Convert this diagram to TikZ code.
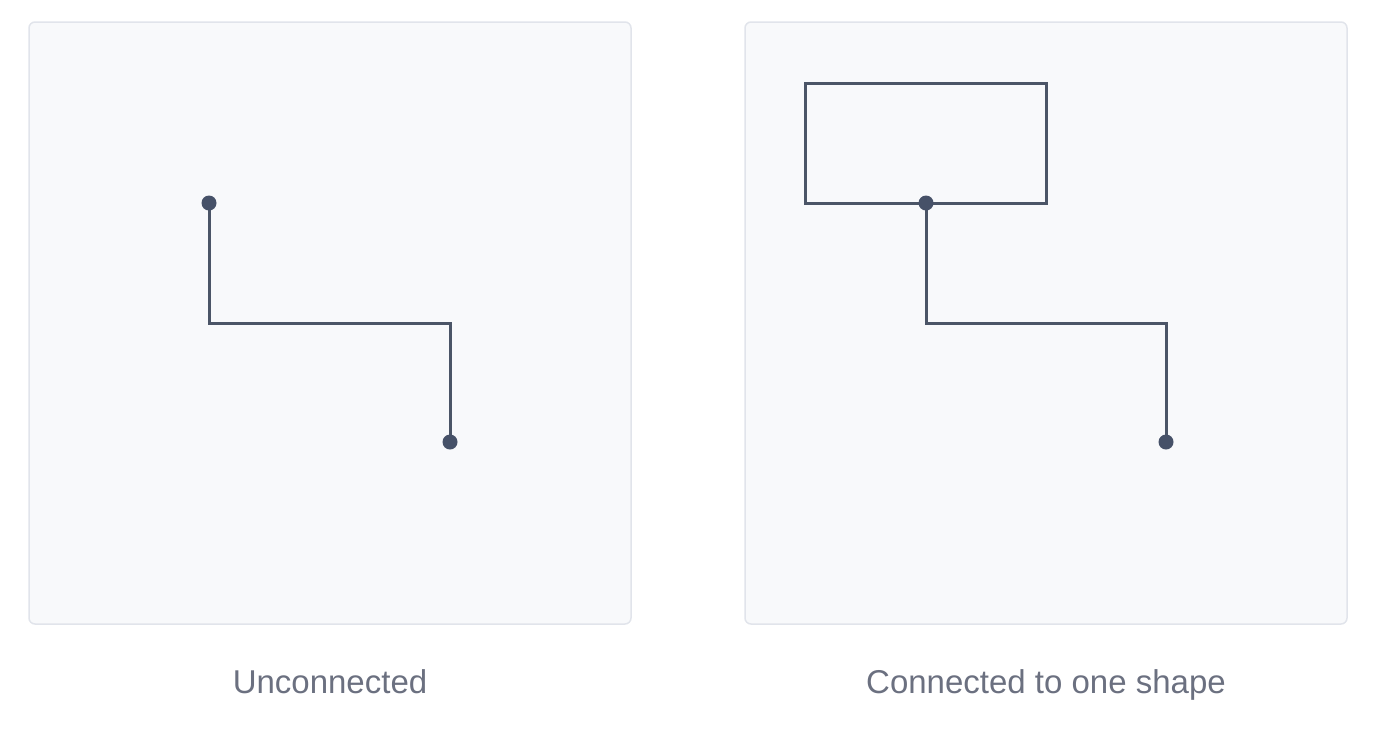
\documentclass[tikz,border=0pt]{standalone}
\usepackage{fontspec}
\setmainfont{Liberation Sans}
\definecolor{panelfill}{HTML}{F8F9FB}
\definecolor{panelborder}{HTML}{E1E4EB}
\definecolor{linec}{HTML}{4B5567}
\definecolor{dotc}{HTML}{465168}
\definecolor{textc}{HTML}{6B7080}
\begin{document}
\begin{tikzpicture}[x=1pt,y=-1pt,
  panel/.style={draw=panelborder,line width=1.5pt,fill=panelfill,rounded corners=6pt},
  conn/.style={draw=linec,line width=3pt},
  shapebox/.style={draw=linec,line width=3pt},
  enddot/.style={circle,fill=dotc,inner sep=0pt,minimum size=15pt},
  caption/.style={text=textc,font=\fontsize{33}{38}\selectfont,anchor=base}]
\useasboundingbox (0,0) rectangle (1390,740);
% panels
\path[panel] (29,22) rectangle (631,624);
\path[panel] (745,22) rectangle (1347,624);
% left panel
\coordinate (a1) at (209,203);
\coordinate (a2) at (209,323);
\coordinate (a3) at (450,323);
\coordinate (a4) at (450,442);
\draw[conn] (a1) -- (a2) -- (a3) -- (a4);
\node[enddot] (d1) at (a1) {};
\node[enddot] (d2) at (a4) {};
% right panel
\path[shapebox] (805,83) rectangle (1046,203);
\coordinate (b1) at (926,203);
\coordinate (b2) at (926,323);
\coordinate (b3) at (1166,323);
\coordinate (b4) at (1166,442);
\draw[conn] (b1) -- (b2) -- (b3) -- (b4);
\node[enddot] (d3) at (b1) {};
\node[enddot] (d4) at (b4) {};
% captions
\node[caption] (c1) at (330,693) {Unconnected};
\node[caption] (c2) at (1046,693) {Connected to one shape};
\end{tikzpicture}
\end{document}
